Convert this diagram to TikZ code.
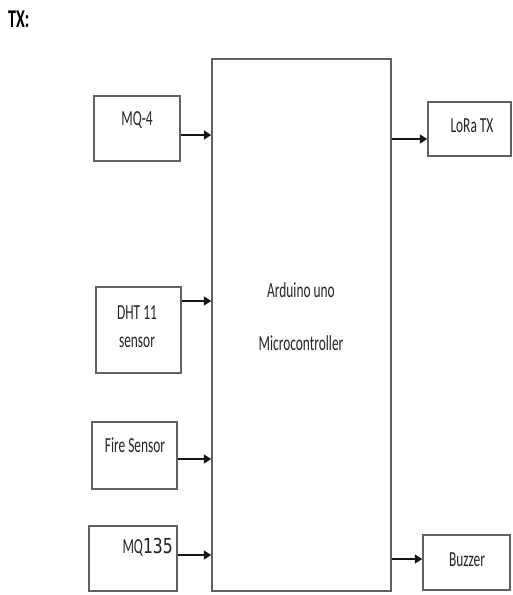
\documentclass[tikz,border=0pt]{standalone}
\usepackage{fontspec}
\usepackage{graphicx}
\setmainfont{Carlito}
\newfontfamily\monof{DejaVu Sans Mono}
\usetikzlibrary{arrows.meta}
\tikzset{
  boxs/.style={draw=black!62, line width=1.5pt, fill=white, inner sep=0pt, rectangle},
  lbl/.style={inner sep=0pt, text=black!85, font=\fontsize{13.4}{14}\selectfont},
  arr/.style={line width=2.8pt, draw=black!92, -{Triangle[length=7.5pt,width=9pt]}}
}
\newcommand{\tall}[1]{\scalebox{1}[1.6]{#1}}
\begin{document}
\begin{tikzpicture}[x=1pt,y=-1pt]
\useasboundingbox (0,0) rectangle (512,595);
% title
\node[lbl, font=\fontsize{16}{17}\selectfont\bfseries, text=black, anchor=west] (title) at (8,19) {\tall{TX:}};
% main block
\node[boxs, minimum width=179pt, minimum height=532pt] (ard) at (301.5,325) {};
\node[lbl] (ard1) at (301,290) {\tall{Arduino uno}};
\node[lbl] (ard2) at (301,343) {\tall{Microcontroller}};
% left inputs
\node[boxs, minimum width=86pt, minimum height=65pt] (mq4) at (137,128.5) {};
\node[lbl] (mq4t) at (137,120) {\tall{MQ-4}};
\node[boxs, minimum width=85pt, minimum height=86pt] (dht) at (138.5,330) {};
\node[lbl] (dht1) at (137,313) {\tall{DHT 11}};
\node[lbl] (dht2) at (137,342) {\tall{sensor}};
\node[boxs, minimum width=85pt, minimum height=67pt] (fire) at (134.5,455.5) {};
\node[lbl] (firet) at (135,445) {\tall{Fire Sensor}};
\node[boxs, minimum width=88pt, minimum height=65pt] (mq135) at (133,558.5) {};
\node[lbl, anchor=east] (mq135t) at (173,547) {\tall{MQ}\scalebox{1}[1.25]{\monof\fontsize{16.5}{17}\selectfont 135}};
% right outputs
\node[boxs, minimum width=83pt, minimum height=54pt] (lora) at (469.5,129) {};
\node[lbl] (lorat) at (472,126) {\tall{LoRa TX}};
\node[boxs, minimum width=87pt, minimum height=55pt] (buz) at (466.5,562.5) {};
\node[lbl] (buzt) at (467,560) {\tall{Buzzer}};
% connectors
\draw[arr] ([yshift=-6.5pt]mq4.east) -- ([yshift=-6.5pt]mq4.east -| ard.west);
\draw[arr] ([yshift=29pt]dht.east) -- ([yshift=29pt]dht.east -| ard.west);
\draw[arr] ([yshift=-3.5pt]fire.east) -- ([yshift=-3.5pt]fire.east -| ard.west);
\draw[arr] ([yshift=3.5pt]mq135.east) -- ([yshift=3.5pt]mq135.east -| ard.west);
\draw[arr] ([yshift=-10pt]ard.east |- lora.west) -- ([yshift=-10pt]lora.west);
\draw[arr] ([yshift=3.5pt]ard.east |- buz.west) -- ([yshift=3.5pt]buz.west);
\end{tikzpicture}
\end{document}
